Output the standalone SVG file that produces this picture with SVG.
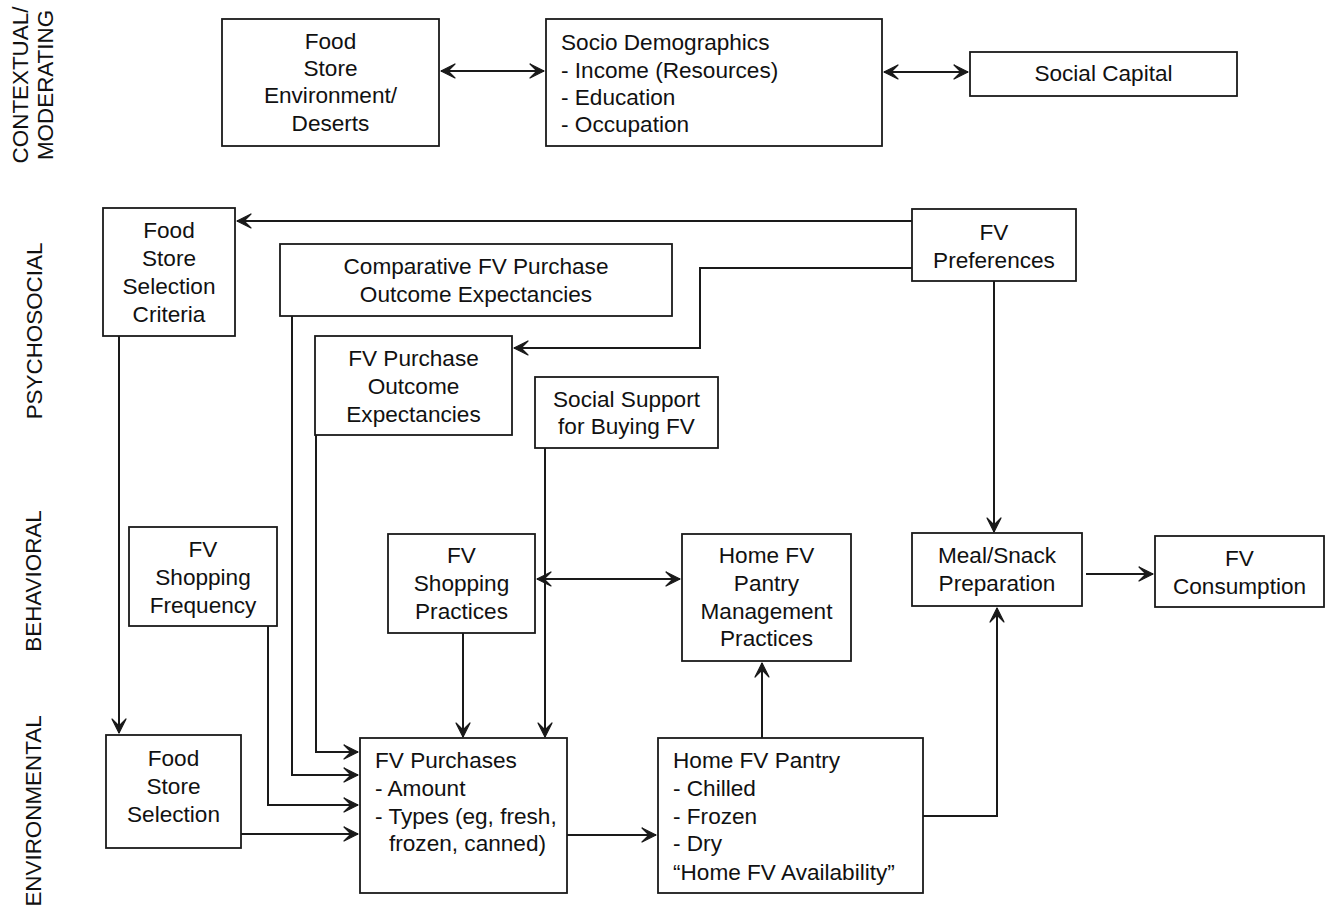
<svg xmlns="http://www.w3.org/2000/svg" width="1333" height="914" viewBox="0 0 1333 914">
<style>
.box{fill:#fff;stroke:#1a1a1a;stroke-width:1.8}
text{font-family:"Liberation Sans",Arial,sans-serif;font-size:22.6px;fill:#111}
.c{text-anchor:middle}
.lbl{font-size:22.4px;text-anchor:middle}
.ln{fill:none;stroke:#1a1a1a;stroke-width:2}
</style>
<defs>
<marker id="ah" viewBox="0 0 16 16" refX="15" refY="8" markerWidth="16" markerHeight="16" markerUnits="userSpaceOnUse" orient="auto-start-reverse">
<path d="M1,1 L15,8 L1,15 L8,8 Z" fill="#1a1a1a" stroke="#1a1a1a" stroke-width="1.2" stroke-linejoin="round"/>
</marker>
</defs>
<rect width="1333" height="914" fill="#fff"/>

<g id="labels">
<text class="lbl" transform="translate(28,85) rotate(-90)">CONTEXTUAL/</text>
<text class="lbl" transform="translate(53,85) rotate(-90)">MODERATING</text>
<text class="lbl" transform="translate(42,331) rotate(-90)">PSYCHOSOCIAL</text>
<text class="lbl" transform="translate(41,581) rotate(-90)">BEHAVIORAL</text>
<text class="lbl" transform="translate(41,811) rotate(-90)">ENVIRONMENTAL</text>
</g>

<g id="connectors">
<line class="ln" x1="441" y1="71" x2="544" y2="71" marker-start="url(#ah)" marker-end="url(#ah)"/>
<line class="ln" x1="884" y1="72" x2="968" y2="72" marker-start="url(#ah)" marker-end="url(#ah)"/>
<line class="ln" x1="912" y1="221" x2="237" y2="221" marker-end="url(#ah)"/>
<polyline class="ln" points="912,268 700,268 700,348 514,348" marker-end="url(#ah)"/>
<line class="ln" x1="994" y1="281" x2="994" y2="532" marker-end="url(#ah)"/>
<line class="ln" x1="1086" y1="574" x2="1153" y2="574" marker-end="url(#ah)"/>
<polyline class="ln" points="923,816 997,816 997,608" marker-end="url(#ah)"/>
<line class="ln" x1="762" y1="738" x2="762" y2="663" marker-end="url(#ah)"/>
<line class="ln" x1="537" y1="579" x2="680" y2="579" marker-start="url(#ah)" marker-end="url(#ah)"/>
<line class="ln" x1="545" y1="448" x2="545" y2="737" marker-end="url(#ah)"/>
<line class="ln" x1="463" y1="633" x2="463" y2="737" marker-end="url(#ah)"/>
<line class="ln" x1="567" y1="835" x2="656" y2="835" marker-end="url(#ah)"/>
<line class="ln" x1="119" y1="336" x2="119" y2="733" marker-end="url(#ah)"/>
<polyline class="ln" points="316,435 316,752 358,752" marker-end="url(#ah)"/>
<polyline class="ln" points="292,316 292,775 358,775" marker-end="url(#ah)"/>
<polyline class="ln" points="268,626 268,805 358,805" marker-end="url(#ah)"/>
<line class="ln" x1="241" y1="834" x2="358" y2="834" marker-end="url(#ah)"/>
</g>

<g id="food-store-env">
<rect class="box" x="222" y="19" width="217" height="127"/>
<text class="c" x="330.5" y="49">Food</text>
<text class="c" x="330.5" y="76">Store</text>
<text class="c" x="330.5" y="103">Environment/</text>
<text class="c" x="330.5" y="131">Deserts</text>
</g>

<g id="socio-demographics">
<rect class="box" x="546" y="19" width="336" height="127"/>
<text x="561" y="50">Socio Demographics</text>
<text x="561" y="78">- Income (Resources)</text>
<text x="561" y="105">- Education</text>
<text x="561" y="132">- Occupation</text>
</g>

<g id="social-capital">
<rect class="box" x="970" y="52" width="267" height="44"/>
<text class="c" x="1103.5" y="81">Social Capital</text>
</g>

<g id="food-store-selection-criteria">
<rect class="box" x="103" y="208" width="132" height="128"/>
<text class="c" x="169" y="238">Food</text>
<text class="c" x="169" y="266">Store</text>
<text class="c" x="169" y="294">Selection</text>
<text class="c" x="169" y="322">Criteria</text>
</g>

<g id="comparative-expectancies">
<rect class="box" x="280" y="244" width="392" height="72"/>
<text class="c" x="476" y="274">Comparative FV Purchase</text>
<text class="c" x="476" y="302">Outcome Expectancies</text>
</g>

<g id="fv-purchase-expectancies">
<rect class="box" x="315" y="336" width="197" height="99"/>
<text class="c" x="413.5" y="366">FV Purchase</text>
<text class="c" x="413.5" y="394">Outcome</text>
<text class="c" x="413.5" y="422">Expectancies</text>
</g>

<g id="social-support">
<rect class="box" x="535" y="377" width="183" height="71"/>
<text class="c" x="626.5" y="407">Social Support</text>
<text class="c" x="626.5" y="434">for Buying FV</text>
</g>

<g id="fv-preferences">
<rect class="box" x="912" y="209" width="164" height="72"/>
<text class="c" x="994" y="240">FV</text>
<text class="c" x="994" y="268">Preferences</text>
</g>

<g id="fv-shopping-frequency">
<rect class="box" x="129" y="527" width="148" height="99"/>
<text class="c" x="203" y="557">FV</text>
<text class="c" x="203" y="585">Shopping</text>
<text class="c" x="203" y="613">Frequency</text>
</g>

<g id="fv-shopping-practices">
<rect class="box" x="388" y="534" width="147" height="99"/>
<text class="c" x="461.5" y="563">FV</text>
<text class="c" x="461.5" y="591">Shopping</text>
<text class="c" x="461.5" y="619">Practices</text>
</g>

<g id="pantry-management">
<rect class="box" x="682" y="534" width="169" height="127"/>
<text class="c" x="766.5" y="563">Home FV</text>
<text class="c" x="766.5" y="591">Pantry</text>
<text class="c" x="766.5" y="619">Management</text>
<text class="c" x="766.5" y="646">Practices</text>
</g>

<g id="meal-snack">
<rect class="box" x="912" y="533" width="170" height="73"/>
<text class="c" x="997" y="563">Meal/Snack</text>
<text class="c" x="997" y="591">Preparation</text>
</g>

<g id="fv-consumption">
<rect class="box" x="1155" y="536" width="169" height="71"/>
<text class="c" x="1239.5" y="566">FV</text>
<text class="c" x="1239.5" y="594">Consumption</text>
</g>

<g id="food-store-selection">
<rect class="box" x="106" y="735" width="135" height="113"/>
<text class="c" x="173.5" y="766">Food</text>
<text class="c" x="173.5" y="794">Store</text>
<text class="c" x="173.5" y="822">Selection</text>
</g>

<g id="fv-purchases">
<rect class="box" x="360" y="738" width="207" height="155"/>
<text x="375" y="768">FV Purchases</text>
<text x="375" y="796">- Amount</text>
<text x="375" y="824">- Types (eg, fresh,</text>
<text x="389" y="851">frozen, canned)</text>
</g>

<g id="home-pantry">
<rect class="box" x="658" y="738" width="265" height="155"/>
<text x="673" y="768">Home FV Pantry</text>
<text x="673" y="796">- Chilled</text>
<text x="673" y="824">- Frozen</text>
<text x="673" y="851">- Dry</text>
<text x="673" y="880">“Home FV Availability”</text>
</g>
</svg>
